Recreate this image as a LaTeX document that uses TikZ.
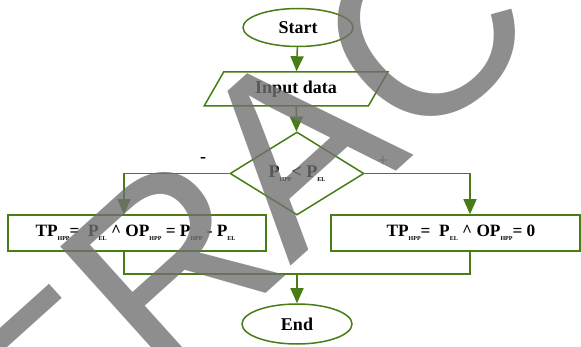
\documentclass[tikz,border=0pt]{standalone}
\usepackage{fontspec}
\setmainfont{Liberation Serif}
\newfontfamily\wmfont{Liberation Sans}
\usetikzlibrary{shapes.geometric,arrows.meta,calc}
\definecolor{flowgreen}{RGB}{72,125,22}
\definecolor{wmgray}{gray}{0.44}
% small lowered index text
\newcommand{\sbs}[1]{\raisebox{-0.5ex}{\fontsize{6}{6}\selectfont #1}}
\begin{document}
\begin{tikzpicture}[x=1pt,y=-1pt,
  txt/.style={font=\fontsize{18}{20}\selectfont\bfseries},
  ftxt/.style={font=\fontsize{17.3}{20}\selectfont\bfseries,inner sep=0pt},
  line/.style={draw=flowgreen,line width=1.5pt},
  arr/.style={line,-{Triangle[width=13pt,length=15pt]}},
  term/.style={txt,ellipse,draw=flowgreen,line width=1.5pt,inner sep=0pt,minimum width=110,minimum height=38},
  io/.style={txt,trapezium,trapezium left angle=56,trapezium right angle=124,trapezium stretches=true,
    draw=flowgreen,line width=1.5pt,inner sep=0pt,minimum width=184,minimum height=34},
  decide/.style={txt,diamond,draw=flowgreen,line width=1.5pt,inner sep=0pt,minimum width=134,minimum height=83},
  proc/.style={rectangle,draw=flowgreen,line width=1.5pt,inner sep=0pt,minimum height=36},
  wm/.style={font=\wmfont\fontsize{250}{250}\selectfont,text=wmgray,text opacity=0.79,inner sep=0pt,rotate=42}
]
\useasboundingbox (0,0) rectangle (581,347);

% flowchart boxes
\node[term] (start) at (298,27.5) {Start};
\node[io] (inp) at (296,89) {Input data};
\node[decide] (dec) at (297,173.5) {P\sbs{HPP}< P\sbs{EL}};
\node[proc,minimum width=258] (lbox) at (137,233) {};
\node[proc,minimum width=249] (rbox) at (455.5,233) {};
\node[term,minimum height=40] (stop) at (297,324) {End};

% formulas inside the two process boxes
\node[ftxt] (ltxt) at (135.5,233) {TP\sbs{HPP}=\ \ P\sbs{EL} \textasciicircum{} OP\sbs{HPP} = P\sbs{HPP} - P\sbs{EL}};
\node[ftxt] (rtxt) at (461,233) {TP\sbs{HPP}=\ \ P\sbs{EL} \textasciicircum{} OP\sbs{HPP}= 0};

% branch columns and merge point
\coordinate (lcol) at (124,0);
\coordinate (rcol) at (470,0);
\coordinate (mrg) at (297,274);

% branch labels
\node[txt] (minus) at (203,160) {-};
\node[font=\fontsize{18}{20}\selectfont,text=black!70] (plus) at (383,161) {+};

% connectors
\draw[arr] (start) -- (inp);
\draw[arr] (inp) -- (dec);
\draw[arr] (dec.west) -| (lcol |- lbox.north);
\draw[arr] (dec.east) -| (rcol |- rbox.north);
\draw[line] (lcol |- lbox.south) |- (mrg);
\draw[line] (rcol |- rbox.south) |- (mrg);
\draw[arr] (mrg) -- (stop);

% watermark lettering across the page
\node[wm] (wmF) at (58,392) {F};
\node[wm] (wmR) at (170,264) {R};
\node[wm] (wmA) at (295,147) {A};
\node[wm] (wmC) at (423,31) {C};
\end{tikzpicture}
\end{document}
